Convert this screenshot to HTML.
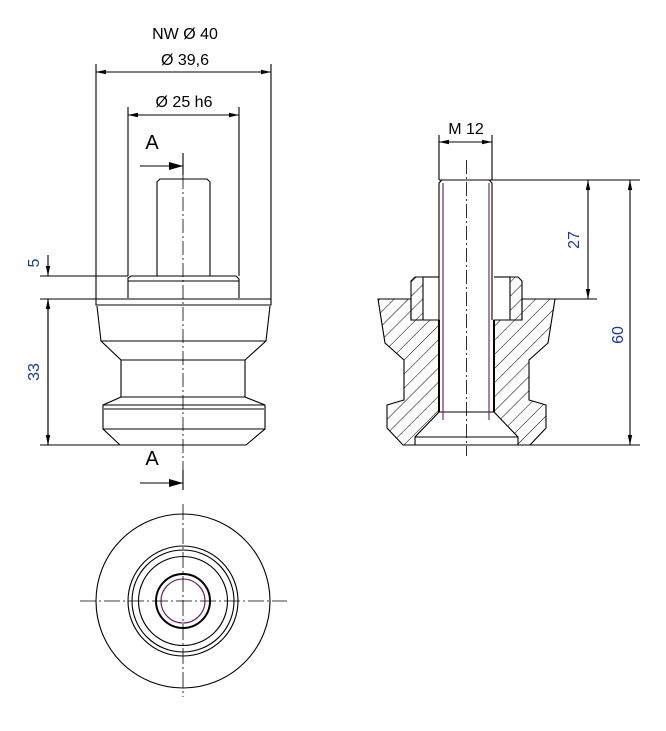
<!DOCTYPE html>
<html><head><meta charset="utf-8"><style>
html,body{margin:0;padding:0;background:#fff;}
svg{display:block;}
text{font-family:"Liberation Sans",sans-serif;}
</style></head><body>
<svg width="666" height="731" viewBox="0 0 666 731" xmlns="http://www.w3.org/2000/svg">
<defs>
<pattern id="h" width="10" height="10" patternUnits="userSpaceOnUse" patternTransform="rotate(45)">
<line x1="0" y1="0" x2="0" y2="10" stroke="#000" stroke-width="1"/>
</pattern>
<marker id="a" viewBox="0 0 10 6" refX="10" refY="3" markerWidth="10" markerHeight="6" markerUnits="userSpaceOnUse" orient="auto-start-reverse"><path d="M0,0.8 L10,3 L0,5.2Z" fill="#000"/></marker>
<marker id="b" viewBox="0 0 14 8" refX="14" refY="4" markerWidth="14" markerHeight="8" markerUnits="userSpaceOnUse" orient="auto"><path d="M0,0 L14,4 L0,8Z" fill="#000"/></marker>
</defs>
<g fill="none" stroke="#000" stroke-width="1.1">
<line x1="96" y1="64" x2="96" y2="299"/>
<line x1="271" y1="64" x2="271" y2="299"/>
<line x1="96" y1="72" x2="271" y2="72" marker-start="url(#a)" marker-end="url(#a)"/>
<line x1="128" y1="107" x2="128" y2="276"/>
<line x1="239" y1="107" x2="239" y2="276"/>
<line x1="128" y1="115" x2="239" y2="115" marker-start="url(#a)" marker-end="url(#a)"/>
<line x1="140" y1="166" x2="183" y2="166" marker-end="url(#b)"/>
<line x1="183" y1="153" x2="183" y2="175"/>
<line x1="140" y1="483" x2="183" y2="483" marker-end="url(#b)"/>
<line x1="183" y1="470" x2="183" y2="490"/>
<path d="M157,276 L157,182 L160,179 L207,179 L210,182 L210,276"/>
<path d="M128,298 L128,278 L131,276 L236,276 L239,279 L239,298"/>
<line x1="128" y1="281" x2="239" y2="281"/>
<line x1="96" y1="299" x2="271" y2="299"/>
<path d="M96,299 L96,305 L271,305 L271,299"/>
<path d="M97,306 L101,341 L121,360 L121,397 L103,405 L103,429 L120,445 L246,445 L265,429 L265,405 L245,397 L245,360 L266,341 L270,306"/>
<line x1="101" y1="341" x2="266" y2="341"/>
<line x1="121" y1="360" x2="245" y2="360"/>
<line x1="121" y1="397" x2="245" y2="397"/>
<line x1="103" y1="405" x2="265" y2="405"/>
<line x1="104" y1="409" x2="264" y2="409"/>
<line x1="103" y1="429" x2="265" y2="429"/>
<line x1="40" y1="276" x2="128" y2="276"/>
<line x1="40" y1="299" x2="96" y2="299"/>
<line x1="40" y1="445" x2="120" y2="445"/>
<line x1="48" y1="255" x2="48" y2="276" marker-end="url(#a)"/>
<line x1="48" y1="445" x2="48" y2="299" marker-end="url(#a)"/>
<line x1="48" y1="299" x2="48" y2="445" marker-end="url(#a)"/>
<line x1="183" y1="175" x2="183" y2="470" stroke-dasharray="14,3,2,3" stroke-width="0.8"/>
<circle cx="183" cy="601" r="87"/>
<circle cx="183" cy="601" r="55"/>
<circle cx="183" cy="601" r="51"/>
<circle cx="183" cy="601" r="44.5"/>
<circle cx="183" cy="601" r="27" stroke-width="2"/>
<circle cx="183" cy="601" r="22" stroke="#6a1a5a"/>
<line x1="80" y1="601" x2="287" y2="601" stroke-dasharray="16,3,2,3" stroke-width="0.8"/>
<line x1="183" y1="504" x2="183" y2="697" stroke-dasharray="16,3,2,3" stroke-width="0.8"/>
<path d="M378,299 L411,299 L411,320 L439,320 L439,412 L415,437 L415,445 L403,445 L387,428 L387,405 L404,400 L404,360 L385,343 Z" fill="url(#h)"/>
<path d="M555,299 L522,299 L522,320 L494,320 L494,412 L518,437 L518,445 L530,445 L546,428 L546,405 L529,400 L529,360 L548,343 Z" fill="url(#h)"/>
<path d="M415,277 L423,277 L423,320 L411,320 L411,281 Z" fill="url(#h)"/>
<path d="M518,277 L510,277 L510,320 L522,320 L522,281 Z" fill="url(#h)"/>
<line x1="423" y1="277" x2="439" y2="277"/>
<line x1="494" y1="277" x2="510" y2="277"/>
<path d="M439,320 L439,183 L442,180 L489,180 L492,183 L492,320"/>
<line x1="439" y1="180" x2="640" y2="180"/>
<line x1="439" y1="320" x2="439" y2="412" stroke-width="2"/>
<line x1="494" y1="320" x2="494" y2="412" stroke-width="2"/>
<line x1="439" y1="412" x2="494" y2="412"/>
<line x1="443" y1="183" x2="443" y2="420" stroke="#6a1a5a"/>
<line x1="489" y1="183" x2="489" y2="420" stroke="#6a1a5a"/>
<line x1="415" y1="437" x2="518" y2="437"/>
<line x1="403" y1="445" x2="640" y2="445"/>
<line x1="555" y1="299" x2="597" y2="299"/>
<line x1="439" y1="135" x2="439" y2="180"/>
<line x1="492" y1="135" x2="492" y2="180"/>
<line x1="439" y1="142" x2="492" y2="142" marker-start="url(#a)" marker-end="url(#a)"/>
<line x1="588" y1="180" x2="588" y2="299" marker-start="url(#a)" marker-end="url(#a)"/>
<line x1="630" y1="180" x2="630" y2="445" marker-start="url(#a)" marker-end="url(#a)"/>
<line x1="466.5" y1="160" x2="466.5" y2="456" stroke-dasharray="14,3,2,3" stroke-width="0.8"/>
</g>
<g font-size="16" fill="#000">
<text x="185" y="39" text-anchor="middle">NW Ø 40</text>
<text x="185" y="65" text-anchor="middle">Ø 39,6</text>
<text x="184" y="107" text-anchor="middle">Ø 25 h6</text>
<text x="466" y="134" text-anchor="middle">M 12</text>
<text x="152" y="149" text-anchor="middle" font-size="20">A</text>
<text x="152" y="465" text-anchor="middle" font-size="20">A</text>
</g>
<g font-size="16" fill="#1a3a9a">
<text transform="translate(39,263) rotate(-90)" text-anchor="middle">5</text>
<text transform="translate(39,372) rotate(-90)" text-anchor="middle">33</text>
<text transform="translate(579,240) rotate(-90)" text-anchor="middle">27</text>
<text transform="translate(623,335) rotate(-90)" text-anchor="middle">60</text>
</g>
</svg>
</body></html>
